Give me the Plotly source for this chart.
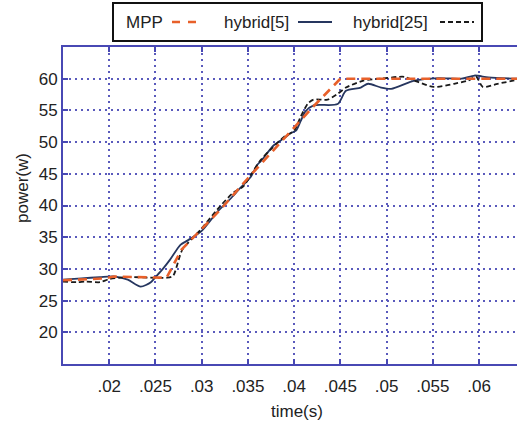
import plotly.graph_objects as go

# ---- data ----
mpp_t = [0.015, 0.0195, 0.0205, 0.0235, 0.0262, 0.0278, 0.0300, 0.0320, 0.0350, 0.0380,
         0.0400, 0.0420, 0.0435, 0.0450, 0.0500, 0.0550, 0.0600, 0.0641]
mpp_p = [28.2, 28.5, 28.8, 28.7, 28.6, 33.0, 36.3, 39.3, 44.3, 49.2,
         52.3, 55.5, 57.8, 60.0, 60.0, 60.0, 60.0, 60.0]

h5_t = [0.015, 0.017, 0.019, 0.0205, 0.022, 0.0234, 0.0245, 0.025, 0.0258, 0.0266,
        0.0277, 0.0285, 0.0300, 0.0317, 0.0334, 0.0340, 0.0353, 0.0360, 0.0364, 0.0378,
        0.0389, 0.0396, 0.0402, 0.0407, 0.0412, 0.0421, 0.0447, 0.0456, 0.0472, 0.0480,
        0.0494, 0.0505, 0.0530, 0.0556, 0.0581, 0.0595, 0.0610, 0.0641]
h5_p = [28.3, 28.5, 28.7, 28.8, 28.3, 27.2, 27.9, 28.7, 30.0, 31.5,
        33.8, 34.5, 36.0, 39.0, 41.5, 42.5, 44.5, 46.4, 47.0, 49.5,
        50.6, 51.4, 51.8, 53.3, 54.8, 55.8, 56.0, 58.1, 58.6, 59.2,
        58.6, 58.4, 59.7, 60.1, 60.0, 60.5, 60.2, 60.0]

h25_t = [0.015, 0.0165, 0.0175, 0.019, 0.020, 0.022, 0.025, 0.0262, 0.0269, 0.0279,
         0.0299, 0.0317, 0.0334, 0.0345, 0.0353, 0.0364, 0.0375, 0.0389, 0.0400, 0.0407,
         0.0415, 0.0421, 0.0436, 0.0447, 0.0456, 0.0475, 0.0494, 0.0519, 0.0530, 0.0551,
         0.0573, 0.0588, 0.0597, 0.0604, 0.0620, 0.0641]
h25_p = [28.0, 27.9, 28.0, 27.9, 28.4, 28.7, 28.6, 28.6, 28.9, 33.0,
         36.2, 39.4, 42.0, 43.0, 44.8, 47.2, 48.9, 50.8, 51.8, 54.0,
         56.1, 56.7, 56.7, 57.6, 58.6, 59.7, 60.0, 60.3, 59.7, 58.7,
         59.2, 59.7, 60.3, 58.7, 59.2, 59.8]

x_ticks = [0.02, 0.025, 0.03, 0.035, 0.04, 0.045, 0.05, 0.055, 0.06]
x_labels = [".02", ".025", ".03", ".035", ".04", ".045", ".05", ".055", ".06"]
y_ticks = [20, 25, 30, 35, 40, 45, 50, 55, 60]

# ---- styling ----
W, H = 517, 423
L, R, T, B = 63, 0, 47, 59
FONT = "Liberation Sans, Arial, sans-serif"
AX = "#4848b4"
GRID = "#5a5abc"
C_MPP = "#e8602a"
C_H5 = "#26365f"
C_H25 = "#1a1a1a"

def px(xp):
    return (xp - L) / (W - L - R)

def py(yp):
    return (H - B - yp) / (H - T - B)

fig = go.Figure()
fig.add_trace(go.Scatter(x=h5_t, y=h5_p, mode="lines", name="hybrid[5]",
                         line=dict(color=C_H5, width=1.8, shape="spline", smoothing=0.7)))
fig.add_trace(go.Scatter(x=h25_t, y=h25_p, mode="lines", name="hybrid[25]",
                         line=dict(color=C_H25, width=1.8, dash="5px,3px", shape="spline", smoothing=0.7)))
fig.add_trace(go.Scatter(x=mpp_t, y=mpp_p, mode="lines", name="MPP",
                         line=dict(color=C_MPP, width=2.6, dash="9px,6px")))

fig.update_layout(
    width=W, height=H,
    margin=dict(l=L, r=R, t=T, b=B),
    paper_bgcolor="white", plot_bgcolor="white",
    showlegend=False,
    font=dict(family=FONT, size=17, color="#222222"),
    xaxis=dict(range=[0.015, 0.0641], tickvals=x_ticks, ticktext=x_labels,
               showgrid=True, gridcolor=GRID, griddash="2px,4px", gridwidth=1.5,
               showline=True, linecolor=AX, linewidth=2, mirror="ticks",
               ticks="inside", ticklen=5, tickcolor=AX, tickwidth=1.5,
               zeroline=False, ticklabelstandoff=6),
    yaxis=dict(range=[15, 65], tickvals=y_ticks,
               showgrid=True, gridcolor=GRID, griddash="2px,4px", gridwidth=1.5,
               showline=True, linecolor=AX, linewidth=2, mirror=False,
               ticks="inside", ticklen=5, tickcolor=AX, tickwidth=1.5,
               zeroline=False),
)

annotations = [
    dict(text="power(w)", textangle=-90, x=px(22), y=py(188), xref="paper", yref="paper",
         showarrow=False, xanchor="center", yanchor="middle", font=dict(size=17)),
    dict(text="time(s)", x=px(297), y=py(411), xref="paper", yref="paper",
         showarrow=False, xanchor="center", yanchor="middle", font=dict(size=17)),
    dict(text="MPP", x=px(124), y=py(22), xref="paper", yref="paper",
         showarrow=False, xanchor="left", yanchor="middle", font=dict(size=17)),
    dict(text="hybrid[5]", x=px(222), y=py(22), xref="paper", yref="paper",
         showarrow=False, xanchor="left", yanchor="middle", font=dict(size=17)),
    dict(text="hybrid[25]", x=px(351), y=py(22), xref="paper", yref="paper",
         showarrow=False, xanchor="left", yanchor="middle", font=dict(size=17)),
]
fig.update_layout(annotations=annotations)

shapes = [
    dict(type="rect", xref="paper", yref="paper", x0=px(113), x1=px(482), y0=py(41), y1=py(3),
         line=dict(color="#111111", width=2), fillcolor="white", layer="above"),
    dict(type="line", xref="paper", yref="paper", x0=px(172), x1=px(197), y0=py(22), y1=py(22),
         line=dict(color=C_MPP, width=2.6, dash="8px,8px")),
    dict(type="line", xref="paper", yref="paper", x0=px(298), x1=px(332), y0=py(22), y1=py(22),
         line=dict(color=C_H5, width=1.8)),
    dict(type="line", xref="paper", yref="paper", x0=px(440), x1=px(474), y0=py(22), y1=py(22),
         line=dict(color=C_H25, width=2, dash="5px,3px")),
]
fig.update_layout(shapes=shapes)

fig.write_html("out.html")
